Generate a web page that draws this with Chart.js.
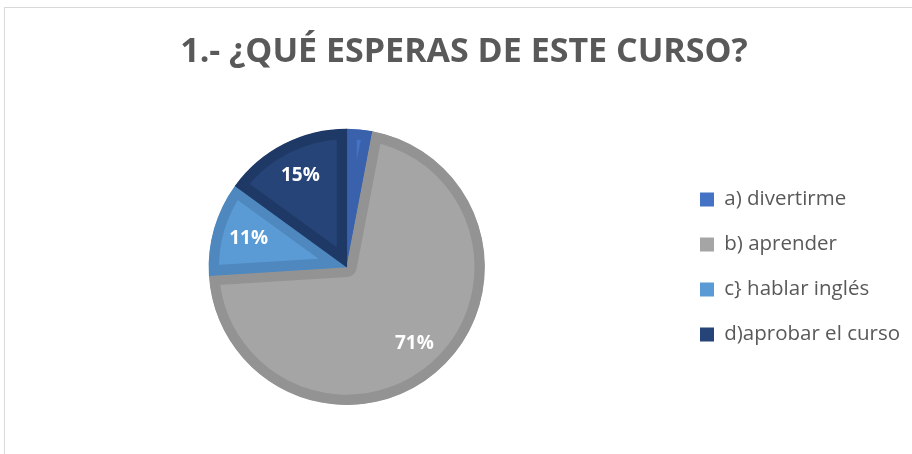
<!DOCTYPE html>
<html>
<head>
<meta charset="utf-8">
<script src="https://cdn.jsdelivr.net/npm/chart.js@4"></script>
<style>
  html, body { margin: 0; padding: 0; background: #fff; overflow: hidden; }
  #wrap { position: relative; width: 912px; height: 454px; }
</style>
</head>
<body>
<div id="wrap"><canvas id="pieChart" width="912" height="454"></canvas></div>
<script>
(function () {
  "use strict";

  var categories = ["a) divertirme", "b) aprender", "c} hablar inglés", "d)aprobar el curso"];
  var percentages = [3, 71, 11, 15];
  var sliceColors = ["#4472C4", "#A5A5A5", "#5B9BD5", "#264478"];
  var edgeColors = ["#3A62AC", "#939393", "#4E88BE", "#1F3966"];

  // light frame around the chart, like the office chart border
  var framePlugin = {
    id: "frame",
    beforeDraw: function (chart) {
      var c = chart.ctx;
      c.save();
      c.strokeStyle = "#D9D9D9";
      c.lineWidth = 1;
      c.strokeRect(4.5, 7.5, 1000, 1000);
      c.restore();
    }
  };

  // percentage labels inside the slices
  var labelPlugin = {
    id: "sliceLabels",
    afterDatasetsDraw: function (chart) {
      var c = chart.ctx;
      var meta = chart.getDatasetMeta(0);
      c.save();
      c.fillStyle = "#FFFFFF";
      c.font = "bold 19px 'Open Sans'";
      c.textAlign = "center";
      c.textBaseline = "middle";
      meta.data.forEach(function (arc, i) {
        var v = percentages[i];
        if (v < 5) return;
        var p = arc.getProps(["x", "y", "startAngle", "endAngle", "outerRadius"], true);
        var mid = (p.startAngle + p.endAngle) / 2;
        var r = p.outerRadius * 0.74;
        c.fillText(v + "%", p.x + Math.cos(mid) * r, p.y + Math.sin(mid) * r);
      });
      c.restore();
    }
  };

  new Chart(document.getElementById("pieChart").getContext("2d"), {
    type: "pie",
    data: {
      labels: categories,
      datasets: [{
        data: percentages,
        backgroundColor: sliceColors,
        borderColor: edgeColors,
        borderWidth: 10,
        borderAlign: "inner",
        hoverOffset: 0,
        offset: 0
      }]
    },
    options: {
      responsive: false,
      animation: false,
      events: [],
      layout: {
        padding: { top: 0, bottom: 49, left: 18, right: 2 }
      },
      plugins: {
        title: {
          display: true,
          text: "1.- ¿QUÉ ESPERAS DE ESTE CURSO?",
          color: "#595959",
          font: { family: "'Open Sans'", size: 34, weight: "bold", lineHeight: 1.2 },
          padding: { top: 32, bottom: 56 }
        },
        legend: {
          position: "right",
          fullSize: false,
          labels: {
            color: "#595959",
            font: { family: "'Open Sans'", size: 20.5 },
            boxWidth: 14,
            boxHeight: 14,
            padding: 24.5,
            generateLabels: function (chart) {
              var items = Chart.overrides.pie.plugins.legend.labels.generateLabels(chart);
              items.forEach(function (it, i) {
                it.lineWidth = 0;
                it.strokeStyle = sliceColors[i];
                it.fillStyle = sliceColors[i];
              });
              return items;
            }
          }
        },
        tooltip: { enabled: false }
      }
    },
    plugins: [framePlugin, labelPlugin]
  });
})();
</script>
</body>
</html>
